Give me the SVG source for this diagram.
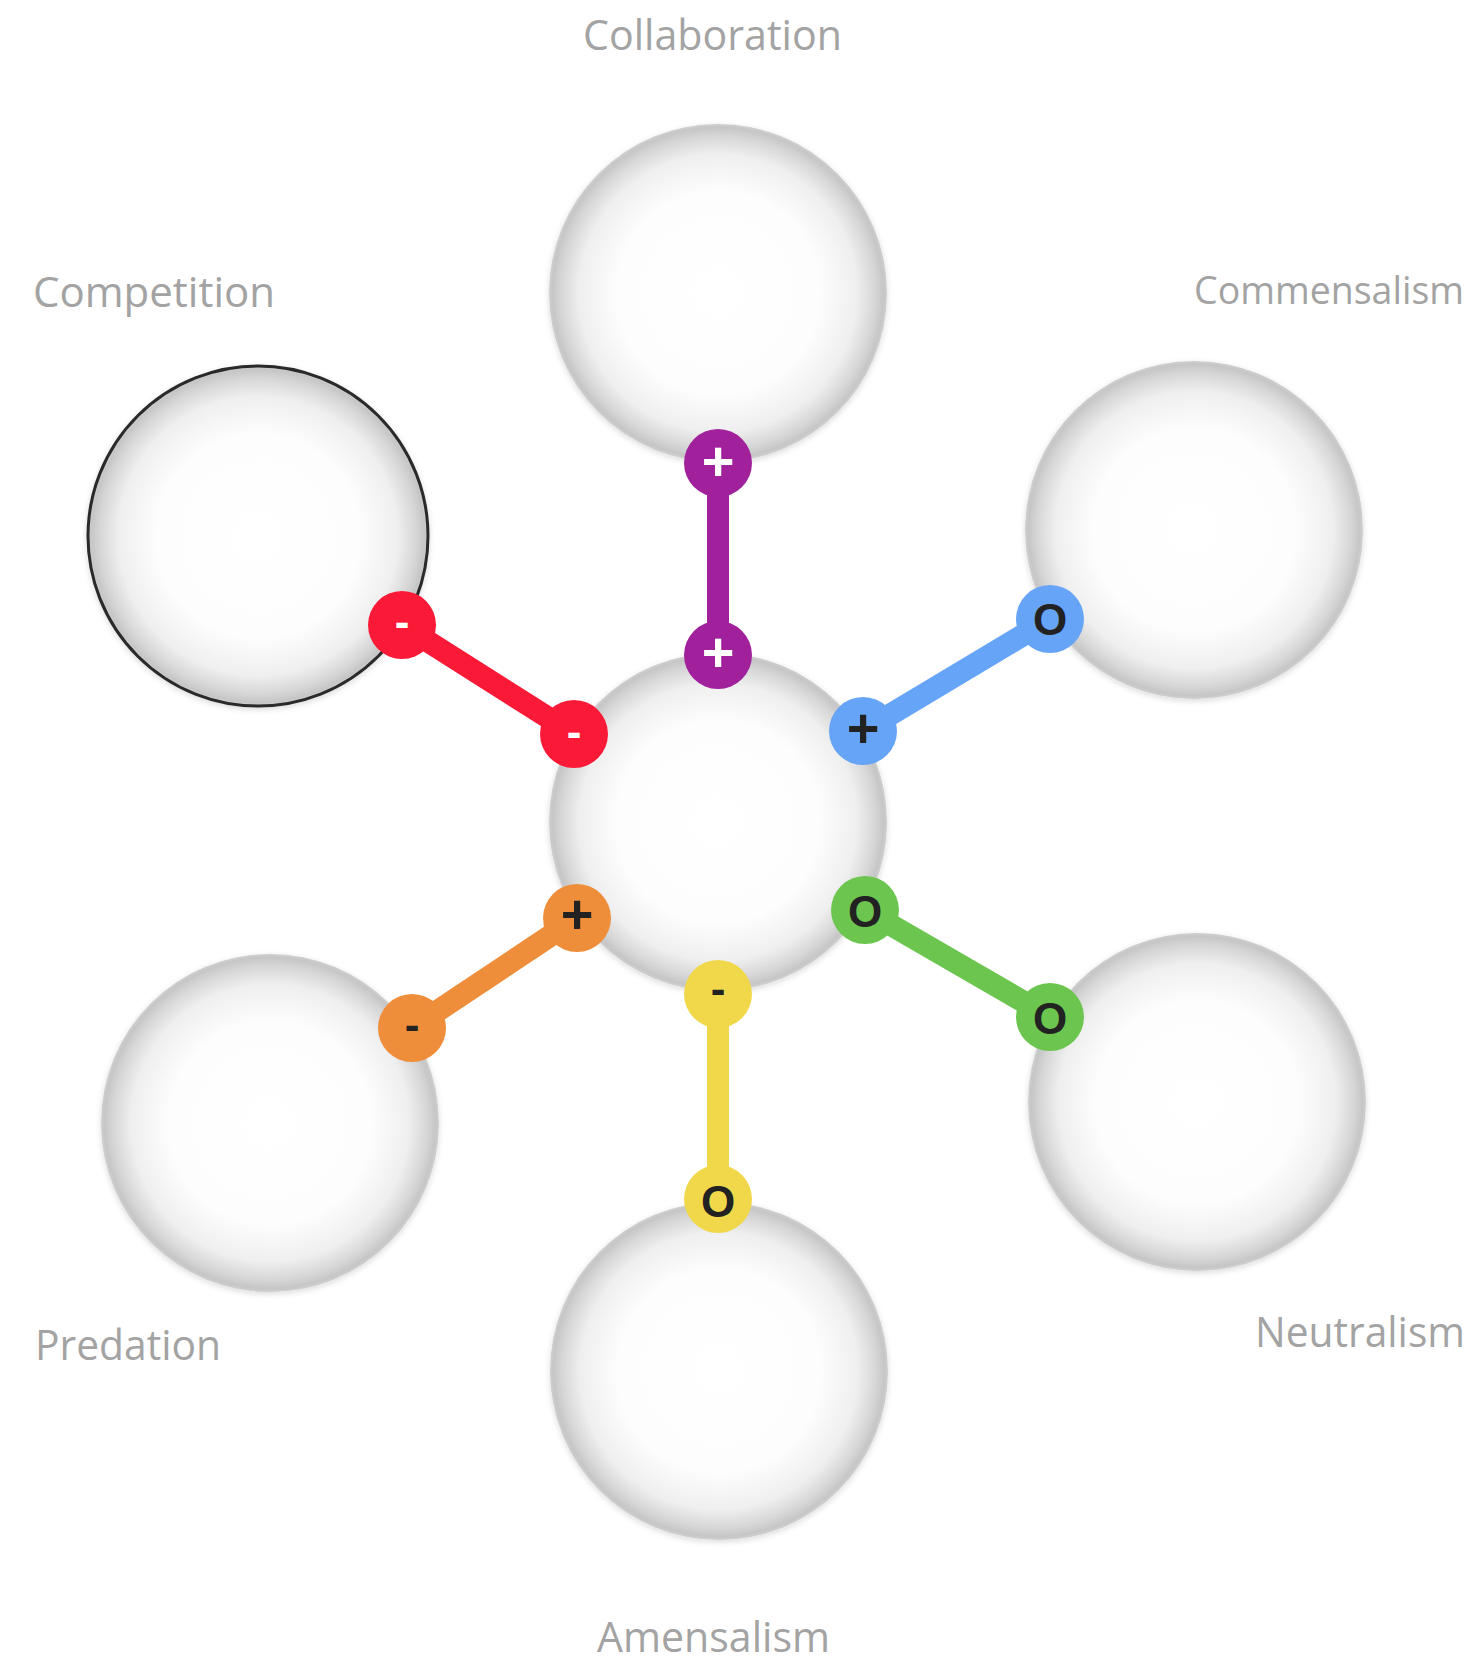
<svg xmlns="http://www.w3.org/2000/svg" width="1480" height="1673" viewBox="0 0 1480 1673">
<style>
.lbl{font-family:"Open Sans","Noto Sans","Liberation Sans",sans-serif;font-size:42px;fill:#a3a3a3;}
.ball{fill:url(#g);}
.badge text{font-family:"Liberation Sans","DejaVu Sans",sans-serif;font-weight:bold;text-anchor:middle;dominant-baseline:central;}
.p{font-size:56px;}
.o{font-size:44px;}
.m{font-size:44px;}
.dk{fill:#222;}
.wt{fill:#fff;}
.ln{stroke-width:22;stroke-linecap:butt;}
</style>
<defs>
<radialGradient id="g" cx="0.5" cy="0.5" r="0.5">
<stop offset="0" stop-color="#ffffff"/>
<stop offset="0.6" stop-color="#fdfdfd"/>
<stop offset="0.82" stop-color="#efefef"/>
<stop offset="0.93" stop-color="#d6d6d6"/>
<stop offset="0.98" stop-color="#c6c6c6"/>
<stop offset="1" stop-color="#d0d0d0"/>
</radialGradient>
<filter id="sh" x="-10%" y="-10%" width="120%" height="125%">
<feGaussianBlur in="SourceAlpha" stdDeviation="3"/>
<feOffset dy="2"/>
<feComponentTransfer><feFuncA type="linear" slope="0.15"/></feComponentTransfer>
<feMerge><feMergeNode/><feMergeNode in="SourceGraphic"/></feMerge>
</filter>
</defs>
<rect width="1480" height="1673" fill="#ffffff"/>

<g id="labels">
<text class="lbl" x="583" y="50" textLength="259" lengthAdjust="spacingAndGlyphs">Collaboration</text>
<text class="lbl" x="33" y="307" textLength="242" lengthAdjust="spacingAndGlyphs">Competition</text>
<text class="lbl" x="1194" y="304" font-size="38" style="font-size:38px" textLength="270" lengthAdjust="spacingAndGlyphs">Commensalism</text>
<text class="lbl" x="35" y="1360" textLength="186" lengthAdjust="spacingAndGlyphs">Predation</text>
<text class="lbl" x="1255" y="1347" textLength="210" lengthAdjust="spacingAndGlyphs">Neutralism</text>
<text class="lbl" x="597" y="1652" textLength="233" lengthAdjust="spacingAndGlyphs">Amensalism</text>
</g>

<g id="node-collaboration"><circle class="ball" filter="url(#sh)" cx="718" cy="293" r="169"/></g>
<g id="node-competition"><circle class="ball" filter="url(#sh)" cx="258" cy="536" r="170" stroke="#2a2a2a" stroke-width="3"/></g>
<g id="node-commensalism"><circle class="ball" filter="url(#sh)" cx="1194" cy="530" r="169"/></g>
<g id="node-center"><circle class="ball" filter="url(#sh)" cx="718" cy="822" r="169"/></g>
<g id="node-predation"><circle class="ball" filter="url(#sh)" cx="270" cy="1123" r="169"/></g>
<g id="node-neutralism"><circle class="ball" filter="url(#sh)" cx="1197" cy="1102" r="169"/></g>
<g id="node-amensalism"><circle class="ball" filter="url(#sh)" cx="719" cy="1371" r="169"/></g>

<g id="connectors">
<g id="c-collaboration">
<line class="ln" x1="718" y1="463" x2="718" y2="655" stroke="#A0219B"/>
<g class="badge"><circle cx="718" cy="463" r="34" fill="#A0219B"/><text class="wt p" x="718" y="460">+</text></g>
<g class="badge"><circle cx="718" cy="655" r="34" fill="#A0219B"/><text class="wt p" x="718" y="651">+</text></g>
</g>
<g id="c-competition">
<line class="ln" x1="402" y1="625" x2="574" y2="734" stroke="#FA1937"/>
<g class="badge"><circle cx="402" cy="625" r="34" fill="#FA1937"/><text class="wt m" x="402" y="621">-</text></g>
<g class="badge"><circle cx="574" cy="734" r="34" fill="#FA1937"/><text class="wt m" x="574" y="731">-</text></g>
</g>
<g id="c-commensalism">
<line class="ln" x1="863" y1="731" x2="1050" y2="619" stroke="#65A4F6"/>
<g class="badge"><circle cx="863" cy="731" r="34" fill="#65A4F6"/><text class="dk p" x="863" y="727">+</text></g>
<g class="badge"><circle cx="1050" cy="619" r="34" fill="#65A4F6"/><text class="dk o" x="1050" y="619">O</text></g>
</g>
<g id="c-predation">
<line class="ln" x1="577" y1="918" x2="412" y2="1028" stroke="#EE8E3B"/>
<g class="badge"><circle cx="577" cy="918" r="34" fill="#EE8E3B"/><text class="dk p" x="577" y="913">+</text></g>
<g class="badge"><circle cx="412" cy="1028" r="34" fill="#EE8E3B"/><text class="dk m" x="412" y="1024">-</text></g>
</g>
<g id="c-amensalism">
<line class="ln" x1="718" y1="994" x2="718" y2="1199" stroke="#F1D84B"/>
<g class="badge"><circle cx="718" cy="994" r="34" fill="#F1D84B"/><text class="dk m" x="718" y="988">-</text></g>
<g class="badge"><circle cx="718" cy="1199" r="34" fill="#F1D84B"/><text class="dk o" x="718" y="1201">O</text></g>
</g>
<g id="c-neutralism">
<line class="ln" x1="865" y1="910" x2="1050" y2="1017" stroke="#6CC54F"/>
<g class="badge"><circle cx="865" cy="910" r="34" fill="#6CC54F"/><text class="dk o" x="865" y="911">O</text></g>
<g class="badge"><circle cx="1050" cy="1017" r="34" fill="#6CC54F"/><text class="dk o" x="1050" y="1018">O</text></g>
</g>
</g>
</svg>
